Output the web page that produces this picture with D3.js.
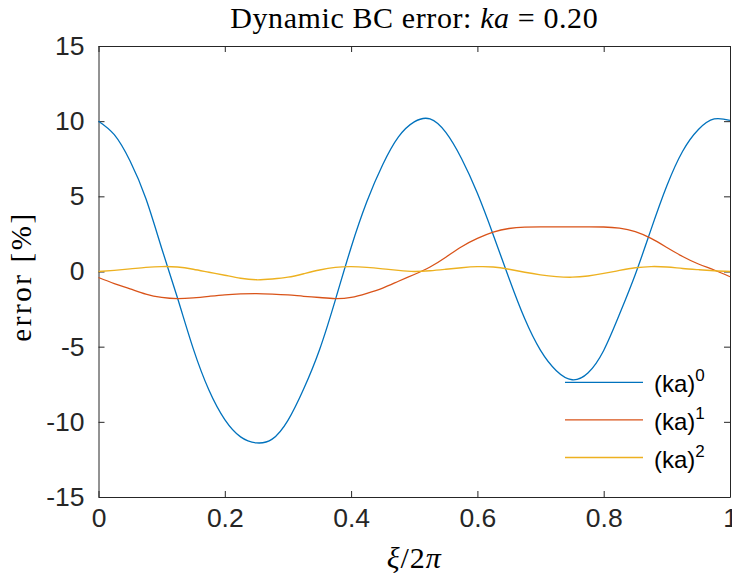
<!DOCTYPE html>
<html>
<head>
<meta charset="utf-8">
<script src="https://cdn.jsdelivr.net/npm/d3@7"></script>
<style>
  body { margin: 0; background: #fff; }
</style>
</head>
<body>
<div id="grafico"></div>
<script>
// 1) data ----------------------------------------------------------
const xi = [0, 0.025, 0.05, 0.075, 0.1, 0.125, 0.15, 0.175, 0.2, 0.225,
  0.25, 0.275, 0.3, 0.325, 0.35, 0.375, 0.4, 0.425, 0.45, 0.475,
  0.5, 0.525, 0.55, 0.575, 0.6, 0.625, 0.65, 0.675, 0.7, 0.725,
  0.75, 0.775, 0.8, 0.825, 0.85, 0.875, 0.9, 0.925, 0.95, 0.975, 1];

const ka0 = [10.0, 9.1, 7.35, 4.85, 1.55, -1.75, -5.13, -7.9, -9.85, -11.0,
  -11.4, -11.15, -9.9, -7.8, -5.2, -1.9, 1.6, 4.65, 7.1, 8.95,
  9.95, 10.15, 9.25, 7.5, 5.2, 2.45, -0.45, -3.15, -5.25, -6.6,
  -7.2, -6.75, -5.25, -2.85, -0.2, 2.8, 5.7, 8.0, 9.45, 10.15, 10.05];

const ka1 = [-0.4, -0.8, -1.15, -1.5, -1.72, -1.8, -1.75, -1.65, -1.55, -1.49,
  -1.47, -1.5, -1.56, -1.65, -1.73, -1.8, -1.72, -1.45, -1.1, -0.65,
  -0.2, 0.3, 0.95, 1.65, 2.2, 2.62, 2.86, 2.95, 2.97, 2.97,
  2.97, 2.97, 2.96, 2.88, 2.65, 2.2, 1.6, 1.0, 0.5, 0.1, -0.35];

const ka2 = [0.0, 0.08, 0.17, 0.27, 0.33, 0.3, 0.15, -0.05, -0.25, -0.45,
  -0.55, -0.5, -0.38, -0.15, 0.1, 0.28, 0.33, 0.28, 0.18, 0.07,
  0.0, 0.05, 0.15, 0.25, 0.32, 0.3, 0.15, -0.05, -0.22, -0.34,
  -0.38, -0.3, -0.13, 0.07, 0.25, 0.33, 0.3, 0.2, 0.12, 0.05, 0.0];

const exponents = ["0", "1", "2"];
const colors = ["#0072BD", "#D95319", "#EDB120"];
const xTicks = [0, 0.2, 0.4, 0.6, 0.8, 1];
const yTicks = [-15, -10, -5, 0, 5, 10, 15];

// 2) standard sizes ------------------------------------------------
const margin = { top: 46, right: 2, bottom: 79, left: 98.5 };
const width = 732 - margin.left - margin.right;
const height = 576 - margin.top - margin.bottom;
const axisColor = "#262626";

// 3) svg -----------------------------------------------------------
const root = d3.select("#grafico")
  .append("svg")
    .attr("width", 732)
    .attr("height", 576);

const svg = root.append("g")
    .attr("transform", `translate(${margin.left},${margin.top})`);

// 4) scales --------------------------------------------------------
const x = d3.scaleLinear().domain([0, 1]).range([0, width]);
const y = d3.scaleLinear().domain([-15, 15]).range([height, 0]);

// 5) axes (ticks pointing inward, box all round) -------------------
function styleAxis(g) {
  g.select(".domain").attr("stroke", axisColor).attr("stroke-width", 1);
  g.selectAll(".tick line").attr("stroke", axisColor).attr("stroke-width", 1);
  g.selectAll("text")
    .attr("fill", axisColor)
    .attr("font-family", "'Liberation Sans', Arial, sans-serif")
    .attr("font-size", "26.5px");
}

svg.append("g")
  .attr("transform", `translate(0,${height})`)
  .call(d3.axisBottom(x).tickValues(xTicks).tickFormat(d => String(d))
    .tickSizeInner(-6).tickSizeOuter(0).tickPadding(11))
  .call(styleAxis);

svg.append("g")
  .call(d3.axisLeft(y).tickValues(yTicks).tickFormat(d => String(d))
    .tickSizeInner(-6).tickSizeOuter(0).tickPadding(14))
  .call(styleAxis);

svg.append("g")
  .call(d3.axisTop(x).tickValues(xTicks).tickFormat("")
    .tickSizeInner(-6).tickSizeOuter(0))
  .call(styleAxis);

svg.append("g")
  .attr("transform", `translate(${width},0)`)
  .call(d3.axisRight(y).tickValues(yTicks).tickFormat("")
    .tickSizeInner(-6).tickSizeOuter(0))
  .call(styleAxis);

// 6) lines ---------------------------------------------------------
const line = d3.line()
  .x((d, i) => x(xi[i]))
  .y(d => y(d))
  .curve(d3.curveNatural);

svg.append("g")
  .selectAll("path")
  .data([ka0, ka1, ka2])
  .join("path")
    .attr("d", line)
    .attr("fill", "none")
    .attr("stroke", (d, i) => colors[i])
    .attr("stroke-width", 1.3);

// 7) legend (no box) -----------------------------------------------
const legend = svg.append("g")
  .attr("transform", `translate(466.5,336.3)`);

const entry = legend.selectAll("g")
  .data(exponents)
  .join("g")
    .attr("transform", (d, i) => `translate(0,${i * 37.6})`);

entry.append("line")
  .attr("x1", 0).attr("x2", 78)
  .attr("stroke", (d, i) => colors[i])
  .attr("stroke-width", 1.3);

const label = entry.append("text")
  .attr("x", 89)
  .attr("y", 10)
  .attr("fill", "#000")
  .attr("font-family", "'Liberation Sans', Arial, sans-serif")
  .attr("font-size", "24px");
label.append("tspan").text("(ka)");
label.append("tspan")
  .attr("font-size", "17px")
  .attr("dy", -11)
  .text(d => d);

// 8) title and axis labels -----------------------------------------
const serif = "'Liberation Serif', 'Times New Roman', serif";

const title = root.append("text")
  .attr("x", margin.left + width / 2)
  .attr("y", 28)
  .attr("text-anchor", "middle")
  .attr("font-family", serif)
  .attr("font-size", "30px")
  .attr("letter-spacing", "0.6px")
  .attr("fill", "#000");
title.append("tspan").text("Dynamic BC error: ");
title.append("tspan").attr("font-style", "italic").text("ka");
title.append("tspan").text(" = 0.20");

const xlab = root.append("text")
  .attr("x", margin.left + width / 2)
  .attr("y", 568)
  .attr("text-anchor", "middle")
  .attr("font-family", serif)
  .attr("font-size", "30px")
  .attr("letter-spacing", "1px")
  .attr("fill", "#000");
xlab.append("tspan").attr("font-style", "italic").text("ξ");
xlab.append("tspan").text("/2");
xlab.append("tspan").attr("font-style", "italic").text("π");

root.append("text")
  .attr("transform", `translate(31,${margin.top + height / 2 + 5}) rotate(-90)`)
  .attr("text-anchor", "middle")
  .attr("font-family", serif)
  .attr("font-size", "29px")
  .attr("letter-spacing", "2.6px")
  .attr("fill", "#000")
  .text("error [%]");
</script>
</body>
</html>
